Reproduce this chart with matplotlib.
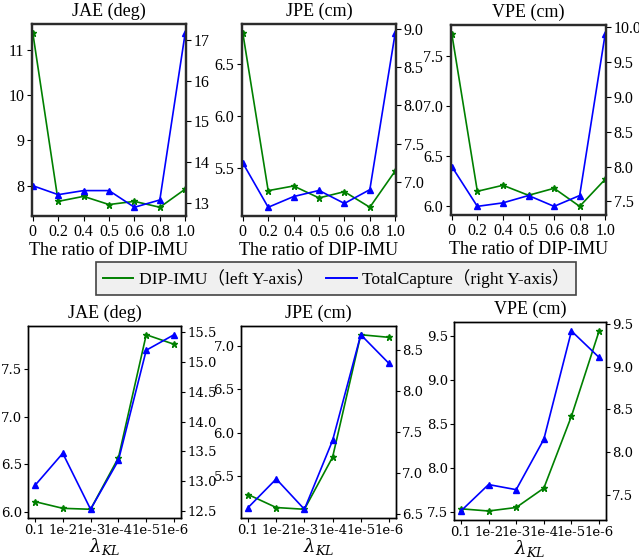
import matplotlib
matplotlib.use("Agg")
import matplotlib.pyplot as plt
from matplotlib.lines import Line2D
from matplotlib.ticker import MultipleLocator

plt.rcParams["mathtext.fontset"] = "dejavuserif"

W, H = 639, 558

# ---- data ----
ratio_labels = ["0", "0.2", "0.4", "0.5", "0.6", "0.8", "1.0"]
kl_labels = ["0.1", "1e-2", "1e-3", "1e-4", "1e-5", "1e-6"]
titles = ["JAE (deg)", "JPE (cm)", "VPE (cm)"]

ratio_dip_jae = [11.37, 7.66, 7.77, 7.59, 7.66, 7.53, 7.93]
ratio_tc_jae = [13.42, 13.20, 13.30, 13.30, 12.89, 13.07, 17.18]
ratio_dip_jpe = [6.80, 5.28, 5.325, 5.21, 5.27, 5.12, 5.47]
ratio_tc_jpe = [7.25, 6.67, 6.81, 6.89, 6.72, 6.90, 8.95]
ratio_dip_vpe = [7.72, 6.15, 6.21, 6.11, 6.18, 6.00, 6.27]
ratio_tc_vpe = [8.00, 7.43, 7.48, 7.585, 7.43, 7.585, 9.90]

kl_dip_jae = [6.11, 6.04, 6.03, 6.57, 7.86, 7.76]
kl_tc_jae = [12.93, 13.47, 12.53, 13.35, 15.20, 15.46]
kl_dip_jpe = [5.29, 5.14, 5.12, 5.72, 7.13, 7.10]
kl_tc_jpe = [6.58, 6.93, 6.56, 7.40, 8.69, 8.34]
kl_dip_vpe = [7.535, 7.51, 7.55, 7.77, 8.59, 9.56]
kl_tc_vpe = [7.31, 7.62, 7.56, 8.15, 9.42, 9.11]

legend_labels = ["DIP-IMU（left Y-axis）", "TotalCapture（right Y-axis）"]

fig = plt.figure(figsize=(W / 100, H / 100), dpi=100)

def rect(x0, y0, x1, y1):
    return [x0 / W, (H - y1) / H, (x1 - x0) / W, (y1 - y0) / H]

top_rects = [rect(32, 24, 186, 216), rect(242, 24, 396, 216), rect(451, 25, 606, 215)]
bot_rects = [rect(28, 326, 181, 518), rect(241, 326, 396, 518), rect(454, 322, 606, 520)]

top_font = "Liberation Serif"
bot_font = "DejaVu Serif"

top_data = [(ratio_dip_jae, ratio_tc_jae), (ratio_dip_jpe, ratio_tc_jpe), (ratio_dip_vpe, ratio_tc_vpe)]
bot_data = [(kl_dip_jae, kl_tc_jae), (kl_dip_jpe, kl_tc_jpe), (kl_dip_vpe, kl_tc_vpe)]
top_steps = [(1.0, 1.0), (0.5, 0.5), (0.5, 0.5)]
bot_steps = [(0.5, 0.5), (0.5, 0.5), (0.5, 0.5)]

def draw(r, dip, tc, labels, title, xlabel, font, fs, spine_col, spine_lw, xpad, steps,
         xl_fs, xl_pad, xl_font, tlen, tpad):
    ax = fig.add_axes(r)
    x = list(range(len(labels)))
    ax.plot(x, dip, color="green", marker="*", markersize=4.5, linewidth=1.2)
    ax2 = ax.twinx()
    ax2.plot(x, tc, color="blue", marker="^", markersize=5, linewidth=1.2)
    ax.set_xlim(-xpad, len(labels) - 1 + xpad)
    ax.yaxis.set_major_locator(MultipleLocator(steps[0]))
    ax2.yaxis.set_major_locator(MultipleLocator(steps[1]))
    ax.set_xticks(x)
    ax.set_xticklabels(labels, family=font, fontsize=fs)
    for a in (ax, ax2):
        for lab in a.get_yticklabels():
            lab.set_family(font)
            lab.set_fontsize(fs)
        for s in a.spines.values():
            s.set_color(spine_col)
            s.set_linewidth(spine_lw)
        a.tick_params(length=tlen, width=0.8, pad=tpad)
    ax.set_title(title, family="Liberation Serif", fontsize=13, pad=6)
    ax.set_xlabel(xlabel, family=xl_font, fontsize=xl_fs, labelpad=xl_pad)
    return ax, ax2

for r, (dip, tc), t, st in zip(top_rects, top_data, titles, top_steps):
    draw(r, dip, tc, ratio_labels, t, "The ratio of DIP-IMU", top_font, 11.5, "#2b2b2b", 1.6,
         0.03, st, 13, 2, top_font, 3.5, 2)

for r, (dip, tc), t, st in zip(bot_rects, bot_data, titles, bot_steps):
    draw(r, dip, tc, kl_labels, t, r"$\lambda_{KL}$", bot_font, 9.5, "black", 1.0,
         0.25, st, 13, -1, bot_font, 3, 1.5)

handles = [Line2D([], [], color="green", linewidth=1.4), Line2D([], [], color="blue", linewidth=1.4)]
leg = fig.legend(handles, legend_labels, loc="center", ncol=2,
                 bbox_to_anchor=(336 / W, 1 - 278.5 / H),
                 prop={"family": ["Liberation Serif", "Noto Sans CJK SC"], "size": 12.6},
                 frameon=True, fancybox=False, handlelength=1.75, handletextpad=0.3,
                 columnspacing=0.7, borderpad=0.38)
leg.get_frame().set_facecolor("#f0f0f0")
leg.get_frame().set_edgecolor("#444444")
leg.get_frame().set_linewidth(1.2)
leg.get_frame().set_alpha(1)

fig.savefig("out.png", dpi=100)
